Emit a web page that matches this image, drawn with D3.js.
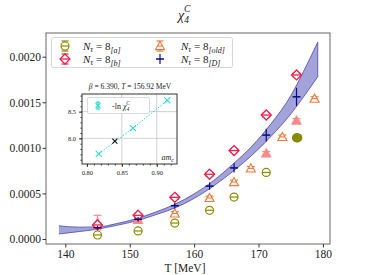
<!DOCTYPE html>
<html><head><meta charset="utf-8">
<script src="https://cdn.jsdelivr.net/npm/d3@7"></script>
<style>body{margin:0;background:#fff}svg{font-family:"Liberation Serif","DejaVu Serif",serif}</style>
</head><body><svg id="c" width="367" height="275"></svg>
<script>
// ---------- data ----------
const T_a = [145.0, 151.3, 157.0, 162.4, 166.2, 171.2];
const chi_a = [0.000044, 0.000088, 0.000175, 0.000315, 0.00046, 0.00073];
const err_a = [0.000012, 0.000012, 0.000012, 0.000014, 0.000015, 0.000018];
const T_aFill = [175.9, 176.1];
const chi_aFill = [0.00111, 0.00111];

const T_b = [145.0, 151.3, 157.0, 162.4, 166.2, 171.2, 175.9];
const chi_b = [0.000154, 0.00026, 0.000457, 0.00071, 0.00097, 0.00136, 0.0018];
const err_b = [0.00002, 0.00002, 0.00002, 0.00002, 0.00002, 0.00002, 0.00002];

const T_old = [157.0, 162.4, 166.2, 168.8, 173.7, 178.7];
const chi_old = [0.00028, 0.00045, 0.000625, 0.000775, 0.00112, 0.00154];
const err_old = [0.00002, 0.00002, 0.00002, 0.00002, 0.00002, 0.00002];
const T_oldFill = [145.0, 151.3, 171.2, 175.9];
const chi_oldFill = [0.00018, 0.00021, 0.00094, 0.0013];
const err_oldFill = [0.00008, 0.00002, 0.00002, 0.00002];

const T_D = [145.0, 151.3, 157.0, 162.4, 166.2, 171.2, 175.9];
const chi_D = [0.000124, 0.000216, 0.000365, 0.00058, 0.00078, 0.00114, 0.00156];
const err_D = [0.00002, 0.000025, 0.00003, 0.00004, 0.00005, 0.00007, 0.0001];

const T_band = [139, 142, 145, 148, 151, 154, 157, 160, 163, 166, 169, 172, 175, 177, 179.2];
const band_mid = [0.0001, 0.000105, 0.00012, 0.00016, 0.00021, 0.00028, 0.00036, 0.00047, 0.00061, 0.00078, 0.00097, 0.0012, 0.00147, 0.0017, 0.00197];
const band_half = [0.000045, 0.000025, 0.000012, 0.00001, 0.000012, 0.000015, 0.00002, 0.000025, 0.00003, 0.00004, 0.00005, 0.00007, 0.0001, 0.00014, 0.00019];

const xTicks = [140, 150, 160, 170, 180];
const yTicks = [0, 0.0005, 0.001, 0.0015, 0.002];

// inset
const amc = [0.817, 0.866, 0.915];
const lnchi = [7.71, 8.19, 8.71];
const amc_star = [0.840];
const lnchi_star = [7.95];
const insetXTicks = [0.80, 0.85, 0.90];
const insetYTicks = [8.0, 8.5];

// ---------- drawing ----------
const svg = d3.select("#c");
const L = 46, R = 330, Tp = 33, B = 244;
const x = d3.scaleLinear().domain([137, 181.1]).range([L, R]);
const y = d3.scaleLinear().domain([-0.000055, 0.00226]).range([B, Tp]);

const cOlive = "#8a8a00", cRed = "#e8204a", cOrange = "#ec7a3a", cPink = "#f88a8a", cNavy = "#0a0a80";

// band
const bandData = T_band.map((t, i) => ({t, lo: band_mid[i] - band_half[i], hi: band_mid[i] + band_half[i]}));
const plot = svg.append("g");
plot.append("path").datum(bandData)
  .attr("d", d3.area().x(d => x(d.t)).y0(d => y(d.lo)).y1(d => y(d.hi)).curve(d3.curveMonotoneX))
  .attr("fill", "#a3a3da").attr("stroke", "none");
["lo", "hi"].forEach(k => plot.append("path").datum(bandData)
  .attr("d", d3.line().x(d => x(d.t)).y(d => y(d[k])).curve(d3.curveMonotoneX))
  .attr("fill", "none").attr("stroke", "#4a4aa8").attr("stroke-width", 0.8));
plot.append("line").attr("x1", x(179.2)).attr("x2", x(179.2))
  .attr("y1", y(bandData[bandData.length-1].lo)).attr("y2", y(bandData[bandData.length-1].hi))
  .attr("stroke", "#4a4aa8").attr("stroke-width", 0.8);

function errbar(g, cx, cy, ey, col, cap) {
  g.append("line").attr("x1", cx).attr("x2", cx).attr("y1", cy - ey).attr("y2", cy + ey)
    .attr("stroke", col).attr("stroke-width", 1.2);
  if (cap) [cy - ey, cy + ey].forEach(v => g.append("line").attr("x1", cx - cap).attr("x2", cx + cap)
    .attr("y1", v).attr("y2", v).attr("stroke", col).attr("stroke-width", 1.2));
}
function marker(g, type, cx, cy, col, fill) {
  const s = 4;
  if (type === "circle") {
    g.append("circle").attr("cx", cx).attr("cy", cy).attr("r", s).attr("fill", fill ? col : "#fff").attr("stroke", col).attr("stroke-width", 1.2);
    g.append("line").attr("x1", cx - s).attr("x2", cx + s).attr("y1", cy).attr("y2", cy).attr("stroke", col).attr("stroke-width", 1.2);
  } else if (type === "diamond") {
    const d = 5;
    g.append("path").attr("d", `M${cx},${cy-d}L${cx+d},${cy}L${cx},${cy+d}L${cx-d},${cy}Z`).attr("fill", "#fff").attr("stroke", col).attr("stroke-width", 1.3);
    g.append("line").attr("x1", cx - d).attr("x2", cx + d).attr("y1", cy).attr("y2", cy).attr("stroke", col).attr("stroke-width", 1.3);
  } else if (type === "tri") {
    const d = 4.5;
    g.append("path").attr("d", `M${cx},${cy-d}L${cx+d},${cy+d*0.8}L${cx-d},${cy+d*0.8}Z`).attr("fill", fill ? col : "#fff").attr("stroke", col).attr("stroke-width", 1.1);
    if (!fill) g.append("line").attr("x1", cx - d*0.6).attr("x2", cx + d*0.6).attr("y1", cy).attr("y2", cy).attr("stroke", col).attr("stroke-width", 1.1);
  } else if (type === "plus") {
    g.append("line").attr("x1", cx - 4).attr("x2", cx + 4).attr("y1", cy).attr("y2", cy).attr("stroke", col).attr("stroke-width", 1.5);
  }
}
const pts = svg.append("g");
T_oldFill.forEach((t, i) => { errbar(pts, x(t), y(chi_oldFill[i]), y(0) - y(err_oldFill[i]), cPink, 4); marker(pts, "tri", x(t), y(chi_oldFill[i]), cPink, true); });
T_a.forEach((t, i) => { errbar(pts, x(t), y(chi_a[i]), y(0) - y(err_a[i]), cOlive, 3); marker(pts, "circle", x(t), y(chi_a[i]), cOlive, false); });
T_aFill.forEach((t, i) => { marker(pts, "circle", x(t), y(chi_aFill[i]), cOlive, true); });
T_old.forEach((t, i) => { errbar(pts, x(t), y(chi_old[i]), y(0) - y(err_old[i]), cOrange, 4); marker(pts, "tri", x(t), y(chi_old[i]), cOrange, false); });
T_b.forEach((t, i) => { errbar(pts, x(t), y(chi_b[i]), y(0) - y(err_b[i]), cRed, 4); marker(pts, "diamond", x(t), y(chi_b[i]), cRed, false); });
T_D.forEach((t, i) => { errbar(pts, x(t), y(chi_D[i]), y(0) - y(err_D[i]), cNavy, 0); marker(pts, "plus", x(t), y(chi_D[i]), cNavy); });

// frame & axes
svg.append("rect").attr("x", L).attr("y", Tp).attr("width", R - L).attr("height", B - Tp).attr("fill", "none").attr("stroke", "#666").attr("stroke-width", 1);
const xa = svg.append("g").attr("transform", `translate(0,${B})`).call(d3.axisBottom(x).tickValues(xTicks).tickFormat(d3.format("d")).tickSize(3.5));
const ya = svg.append("g").attr("transform", `translate(${L},0)`).call(d3.axisLeft(y).tickValues(yTicks).tickFormat(d3.format(".4f")).tickSize(3.5));
[xa, ya].forEach(a => { a.select(".domain").remove(); a.selectAll("line").attr("stroke", "#333"); a.selectAll("text").attr("font-size", 11.5).attr("fill", "#222").attr("font-family", "Liberation Serif"); });
xa.selectAll("text").attr("y", 5).attr("dy", "0.75em");
ya.selectAll("text").attr("dy", "0.34em").attr("x", -5);

svg.append("text").attr("x", 185).attr("y", 272).attr("text-anchor", "middle").attr("font-size", 11.5).attr("fill", "#222").text("T [MeV]");
// title
const tt = svg.append("text").attr("x", 178).attr("y", 20).attr("font-size", 14).attr("font-style", "italic").attr("fill", "#222");
tt.append("tspan").text("χ");
tt.append("tspan").attr("font-size", 9.5).attr("font-style", "italic").attr("dx", 0).attr("dy", 3).text("4");
tt.append("tspan").attr("font-size", 9.5).attr("font-style", "italic").attr("dx", -5).attr("dy", -11).text("C");

// legend
svg.append("rect").attr("x", 51.5).attr("y", 37.5).attr("width", 181).attr("height", 30).attr("rx", 2).attr("fill", "#fff").attr("stroke", "#ccc").attr("stroke-width", 0.8);
const leg = svg.append("g");
const legItems = [
  {mx: 65, my: 46, type: "circle", col: cOlive, sub: "[a]", tx: 83},
  {mx: 65, my: 59, type: "diamond", col: cRed, sub: "[b]", tx: 83},
  {mx: 160, my: 46, type: "tri", col: cOrange, sub: "[old]", tx: 181},
  {mx: 160, my: 59, type: "plus", col: cNavy, sub: "[D]", tx: 181},
];
legItems.forEach(it => {
  errbar(leg, it.mx, it.my, 5, it.col, it.type === "plus" ? 0 : 3.5);
  marker(leg, it.type, it.mx, it.my, it.col, false);
  const t = leg.append("text").attr("x", it.tx).attr("y", it.my + 4).attr("font-size", 11).attr("fill", "#222");
  t.append("tspan").attr("font-style", "italic").text("N");
  t.append("tspan").attr("font-size", 8).attr("font-style", "italic").attr("dy", 2).text("τ");
  t.append("tspan").attr("dy", -2).text(" = 8");
  t.append("tspan").attr("font-size", 8).attr("font-style", "italic").attr("dy", 2.5).text(it.sub);
});

// inset
const iL = 82, iR = 177, iT = 94, iB = 164;
const ix = d3.scaleLinear().domain([0.793, 0.929]).range([iL, iR]);
const iy = d3.scaleLinear().domain([7.52, 8.83]).range([iB, iT]);
const ins = svg.append("g");
ins.append("rect").attr("x", iL).attr("y", iT).attr("width", iR - iL).attr("height", iB - iT).attr("fill", "#fff");
insetXTicks.slice(1).forEach(v => ins.append("line").attr("x1", ix(v)).attr("x2", ix(v)).attr("y1", iT).attr("y2", iB).attr("stroke", "#bbb").attr("stroke-width", 0.7));
insetYTicks.forEach(v => ins.append("line").attr("x1", iL).attr("x2", iR).attr("y1", iy(v)).attr("y2", iy(v)).attr("stroke", "#bbb").attr("stroke-width", 0.7));
ins.append("path").datum(amc.map((a, i) => [a, lnchi[i]]))
  .attr("d", d3.line().x(d => ix(d[0])).y(d => iy(d[1]))).attr("fill", "none").attr("stroke", "#30d8d0").attr("stroke-width", 1).attr("stroke-dasharray", "1.5,1.5");
function xmark(g, cx, cy, col, s) {
  g.append("path").attr("d", `M${cx-s},${cy-s}L${cx+s},${cy+s}M${cx-s},${cy+s}L${cx+s},${cy-s}`).attr("stroke", col).attr("stroke-width", 1.1);
}
amc.forEach((a, i) => xmark(ins, ix(a), iy(lnchi[i]), "#30d8d0", 3));
amc_star.forEach((a, i) => xmark(ins, ix(a), iy(lnchi_star[i]), "#111", 2.5));
ins.append("rect").attr("x", iL).attr("y", iT).attr("width", iR - iL).attr("height", iB - iT).attr("fill", "none").attr("stroke", "#333").attr("stroke-width", 1);
const ixa = ins.append("g").attr("transform", `translate(0,${iB})`).call(d3.axisBottom(ix).tickValues(insetXTicks).tickFormat(d3.format(".2f")).tickSize(3));
const iya = ins.append("g").attr("transform", `translate(${iL},0)`).call(d3.axisLeft(iy).tickValues(insetYTicks).tickFormat(d3.format(".1f")).tickSize(3));
// minor ticks
const ixm = ins.append("g").attr("transform", `translate(0,${iB})`).call(d3.axisBottom(ix).tickValues(d3.range(0.80, 0.926, 0.01)).tickFormat("").tickSize(1.5));
const iym = ins.append("g").attr("transform", `translate(${iL},0)`).call(d3.axisLeft(iy).tickValues(d3.range(7.6, 8.81, 0.1)).tickFormat("").tickSize(1.5));
[ixa, iya, ixm, iym].forEach(a => { a.select(".domain").remove(); a.selectAll("line").attr("stroke", "#333"); a.selectAll("text").attr("font-size", 6.5).attr("fill", "#222").attr("font-family", "Liberation Serif"); });
ins.append("text").attr("x", 174).attr("y", 160).attr("text-anchor", "end").attr("font-size", 8).attr("font-style", "italic").attr("fill", "#222").text("am").append("tspan").attr("font-size", 6).attr("dy", 1.5).text("c");
// inset legend
ins.append("rect").attr("x", 87.5).attr("y", 97.5).attr("width", 62).attr("height", 16).attr("rx", 1.5).attr("fill", "#fff").attr("stroke", "#ccc").attr("stroke-width", 0.7);
errbar(ins, 98, 105.5, 3.5, "#30d8d0", 2);
xmark(ins, 98, 105.5, "#30d8d0", 2.5);
const il = ins.append("text").attr("x", 112).attr("y", 108.5).attr("font-size", 8).attr("fill", "#222");
il.append("tspan").text("-ln ");
il.append("tspan").attr("font-style", "italic").text("χ");
il.append("tspan").attr("font-size", 5.5).attr("font-style", "italic").attr("dy", 2).text("4");
il.append("tspan").attr("font-size", 5.5).attr("font-style", "italic").attr("dx", -3).attr("dy", -6).text("C");
// inset title
const it2 = svg.append("text").attr("x", 130).attr("y", 89).attr("text-anchor", "middle").attr("font-size", 7.5).attr("fill", "#222");
it2.append("tspan").attr("font-style", "italic").text("β");
it2.append("tspan").text(" = 6.390, ");
it2.append("tspan").attr("font-style", "italic").text("T");
it2.append("tspan").text(" = 156.92 MeV");
</script></body></html>
